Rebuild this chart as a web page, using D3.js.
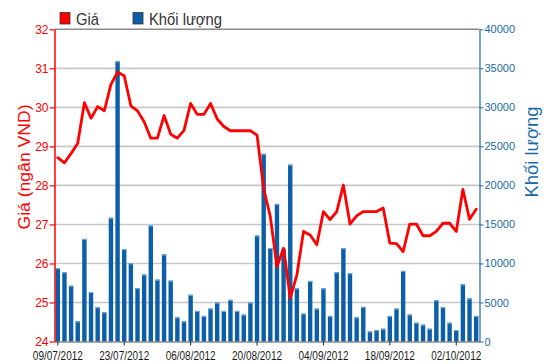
<!DOCTYPE html>
<html><head><meta charset="utf-8">
<script src="https://cdn.jsdelivr.net/npm/d3@7"></script>
<style>
html,body{margin:0;padding:0;background:#fff;}
svg{display:block;}
</style></head>
<body>
<svg id="c" width="550" height="364"></svg>
<script>
const dates = [
 "09/07/2012","10/07/2012","11/07/2012","12/07/2012","13/07/2012",
 "16/07/2012","17/07/2012","18/07/2012","19/07/2012","20/07/2012",
 "23/07/2012","24/07/2012","25/07/2012","26/07/2012","27/07/2012",
 "30/07/2012","31/07/2012","01/08/2012","02/08/2012","03/08/2012",
 "06/08/2012","07/08/2012","08/08/2012","09/08/2012","10/08/2012",
 "13/08/2012","14/08/2012","15/08/2012","16/08/2012","17/08/2012",
 "20/08/2012","21/08/2012","22/08/2012","23/08/2012","24/08/2012",
 "27/08/2012","28/08/2012","29/08/2012","30/08/2012","31/08/2012",
 "04/09/2012","05/09/2012","06/09/2012","07/09/2012",
 "10/09/2012","11/09/2012","12/09/2012","13/09/2012","14/09/2012",
 "17/09/2012","18/09/2012","19/09/2012","20/09/2012","21/09/2012",
 "24/09/2012","25/09/2012","26/09/2012","27/09/2012","28/09/2012",
 "01/10/2012","02/10/2012","03/10/2012","04/10/2012","05/10/2012"
];
const price = [
 28.71,28.58,28.82,29.08,30.12,29.72,30.02,29.91,30.59,30.90,
 30.81,30.04,29.91,29.63,29.21,29.21,29.79,29.31,29.21,29.41,
 30.10,29.82,29.82,30.10,29.70,29.51,29.40,29.40,29.40,29.40,
 29.29,27.92,27.20,25.92,26.39,25.11,25.71,26.82,26.73,26.48,
 27.33,27.12,27.33,28.01,27.01,27.22,27.33,27.33,27.33,27.42,
 26.52,26.51,26.30,27.01,27.01,26.71,26.71,26.82,27.03,27.03,
 26.82,27.90,27.13,27.39
];
const volume = [
 9400,8880,7150,2590,13150,6340,4400,3750,15860,35900,
 11850,10040,6850,8580,14870,7930,11160,7800,3100,2590,
 5990,3920,3280,4220,5000,3920,5340,3920,3450,5000,
 13580,24050,11980,17630,11900,22670,6810,3580,7760,4220,
 6810,3280,8880,11980,8750,3100,4440,1290,1470,1640,
 3280,4220,9050,3450,2410,2160,1640,5300,4400,2410,
 1470,7330,5520,3280
];
const priceTicks = [24,25,26,27,28,29,30,31,32];
const volumeTicks = [0,5000,10000,15000,20000,25000,30000,35000,40000];
const xTickLabels = ["09/07/2012","23/07/2012","06/08/2012","20/08/2012","04/09/2012","18/09/2012","02/10/2012"];
const legendLabels = ["Giá","Khối lượng"];
const titleLeft = "Giá (ngân VND)";
const titleRight = "Khối lượng";

const svg = d3.select("#c");
const L = 54.5, R = 479.5, T = 29.3, B = 341.5;
const RED = "#ff0000", BLUE = "#0b5ea7", BLUE_T = "#1a6aa6";
const FONT = "'Liberation Sans',Arial,sans-serif";

const x = d3.scaleBand().domain(dates).range([L, R]).paddingInner(0.34).paddingOuter(0.17);
const yP = d3.scaleLinear().domain([24,32]).range([B, T]);
const yV = d3.scaleLinear().domain([0,40000]).range([B, T]);

// gridlines
svg.append("g").selectAll("line").data(priceTicks.filter(t => t > 24 && t < 32)).join("line")
  .attr("x1", L).attr("x2", R).attr("y1", d => yP(d)).attr("y2", d => yP(d))
  .attr("stroke", "#c8c8c8").attr("stroke-width", 1.6);
svg.append("line").attr("x1", L).attr("x2", R).attr("y1", T).attr("y2", T)
  .attr("stroke", "#8a8a8a").attr("stroke-width", 1.6);

// bars
svg.append("g").selectAll("rect").data(volume).join("rect")
  .attr("x", (d,i) => x(dates[i]))
  .attr("width", x.bandwidth())
  .attr("y", d => yV(d))
  .attr("height", d => B - yV(d))
  .attr("fill", BLUE);
svg.append("g").selectAll("rect").data(volume).join("rect")
  .attr("x", (d,i) => x(dates[i]))
  .attr("width", x.bandwidth())
  .attr("y", d => yV(d))
  .attr("height", 1.2)
  .attr("fill", "#6fa8dc");

// price line
const line = d3.line().x((d,i) => x(dates[i]) + x.bandwidth()/2).y(d => yP(d));
svg.append("path").datum(price).attr("d", line)
  .attr("fill", "none").attr("stroke", RED).attr("stroke-width", 2.8)
  .attr("stroke-linejoin", "round").attr("stroke-linecap","round");

// bottom axis
const xAxis = d3.axisBottom(x).tickValues(xTickLabels).tickSize(4).tickSizeOuter(0);
const gx = svg.append("g").attr("transform", `translate(0,${B})`).call(xAxis);
gx.select(".domain").attr("stroke", "#555").attr("stroke-width", 1);
gx.selectAll(".tick line").attr("stroke", "#222");
gx.selectAll(".tick text").attr("fill", "#1a1a1a").attr("font-family", FONT).attr("font-size", 12)
  .attr("dy", "0.95em").attr("textLength", 50).attr("lengthAdjust", "spacingAndGlyphs");

// left axis
const yAxisL = d3.axisLeft(yP).tickValues(priceTicks).tickSize(5).tickSizeOuter(0).tickFormat(d3.format("d"));
const gl = svg.append("g").attr("transform", `translate(${L},0)`).call(yAxisL);
gl.select(".domain").attr("stroke", RED).attr("stroke-width", 1.5);
gl.selectAll(".tick line").attr("stroke", RED).attr("stroke-width", 1.2);
gl.selectAll(".tick text").attr("fill", RED).attr("font-family", FONT).attr("font-size", 12).attr("x", -6);

// right axis
const yAxisR = d3.axisRight(yV).tickValues(volumeTicks).tickSize(4).tickSizeOuter(0).tickFormat(d3.format("d"));
const gr = svg.append("g").attr("transform", `translate(${R},0)`).call(yAxisR);
gr.select(".domain").attr("stroke", BLUE_T).attr("stroke-width", 1.2);
gr.selectAll(".tick line").attr("stroke", BLUE_T);
gr.selectAll(".tick text").attr("fill", BLUE_T).attr("font-family", FONT).attr("font-size", 11).attr("x", 5);

// axis titles
svg.append("text").attr("transform", `translate(30,167) rotate(-90)`)
  .attr("text-anchor","middle").attr("fill", RED).attr("font-family", FONT)
  .attr("font-size", 17).attr("textLength", 125).attr("lengthAdjust","spacingAndGlyphs").text(titleLeft);
svg.append("text").attr("transform", `translate(538,152) rotate(-90)`)
  .attr("text-anchor","middle").attr("fill", BLUE_T).attr("font-family", FONT)
  .attr("font-size", 18).attr("textLength", 91).attr("lengthAdjust","spacingAndGlyphs").text(titleRight);

// legend
const legendColors = [RED, BLUE];
const legendX = [60, 133];
const legendW = [23, 73];
const lg = svg.append("g");
legendLabels.forEach((lab, i) => {
  lg.append("rect").attr("x", legendX[i]).attr("y", 12.5).attr("width", 10).attr("height", 11.5)
    .attr("fill", legendColors[i]).attr("stroke", "#333").attr("stroke-width", 0.8);
  lg.append("text").attr("x", legendX[i] + 16).attr("y", 25).attr("fill", "#333")
    .attr("font-family", FONT).attr("font-size", 17)
    .attr("textLength", legendW[i]).attr("lengthAdjust","spacingAndGlyphs").text(lab);
});
</script>
</body></html>
